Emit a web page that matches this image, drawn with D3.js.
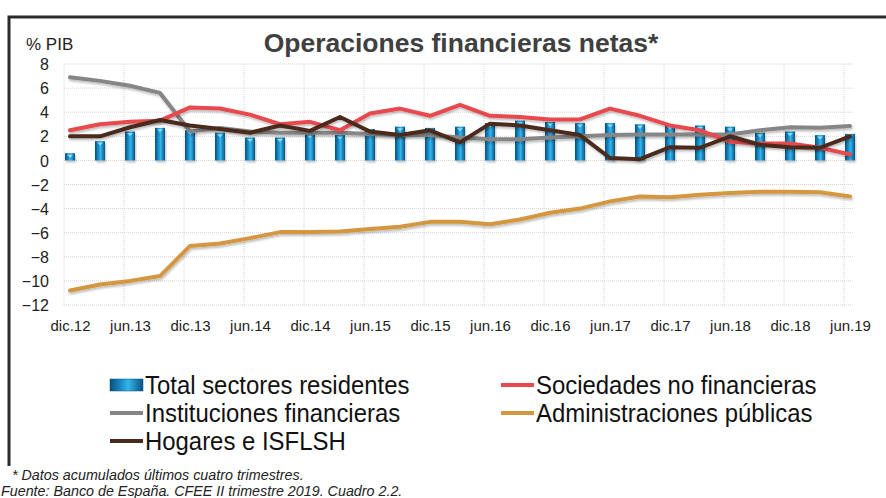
<!DOCTYPE html>
<html><head><meta charset="utf-8">
<script src="https://cdn.jsdelivr.net/npm/d3@7"></script>
<style>
html,body{margin:0;padding:0;background:#fff;}
svg{display:block;}
</style></head>
<body>
<svg id="c" width="886" height="498"></svg>
<script>
const categories = ["dic.12","mar.13","jun.13","sep.13","dic.13","mar.14","jun.14","sep.14","dic.14","mar.15","jun.15","sep.15","dic.15","mar.16","jun.16","sep.16","dic.16","mar.17","jun.17","sep.17","dic.17","mar.18","jun.18","sep.18","dic.18","mar.19","jun.19"];
const tickLabels = ["dic.12","jun.13","dic.13","jun.14","dic.14","jun.15","dic.15","jun.16","dic.16","jun.17","dic.17","jun.18","dic.18","jun.19"];
const yTicks = [-12,-10,-8,-6,-4,-2,0,2,4,6,8];
const total = [0.6,1.6,2.4,2.7,2.5,2.3,1.9,1.9,2.2,2.1,2.6,2.8,2.7,2.8,3.1,3.3,3.2,3.1,3.1,3.0,2.9,2.9,2.8,2.3,2.4,2.1,2.2];
const sociedades = [2.5,3.0,3.2,3.3,4.4,4.3,3.8,3.0,3.2,2.5,3.9,4.3,3.7,4.6,3.7,3.6,3.4,3.4,4.3,3.7,2.9,2.5,1.55,1.4,1.4,1.05,0.5];
const instituciones = [6.9,6.6,6.2,5.6,2.4,2.7,2.4,2.3,2.3,2.3,2.2,2.1,2.1,1.9,1.75,1.75,1.9,2.0,2.1,2.15,2.15,2.15,2.15,2.5,2.75,2.7,2.85];
const hogares = [2.0,2.0,2.75,3.35,2.9,2.6,2.3,2.9,2.45,3.6,2.4,2.1,2.5,1.5,3.05,2.9,2.5,2.1,0.2,0.1,1.1,1.05,2.0,1.3,1.1,1.05,2.0];
const administraciones = [-10.8,-10.3,-10.0,-9.6,-7.1,-6.9,-6.45,-5.95,-5.95,-5.9,-5.7,-5.5,-5.1,-5.1,-5.3,-4.9,-4.35,-4.0,-3.4,-3.0,-3.05,-2.85,-2.7,-2.6,-2.6,-2.65,-3.0];

const lineSeries = [
  {name:"Instituciones financieras", values:instituciones, color:"#868686"},
  {name:"Sociedades no financieras", values:sociedades, color:"#e8484e"},
  {name:"Administraciones públicas", values:administraciones, color:"#d4973f"},
  {name:"Hogares e ISFLSH", values:hogares, color:"#4a2a1c"}
];

const svg = d3.select("#c");
const font = "'Liberation Sans', Arial, sans-serif";

const x = d3.scaleLinear().domain([0, categories.length-1]).range([70, 850]);
const y = d3.scaleLinear().domain([-12, 8]).range([305, 64]);

// frame
svg.append("path").attr("d","M9,466 L9,17 L886,17").attr("fill","none").attr("stroke","#2b2b2b").attr("stroke-width",3);

// defs
const defs = svg.append("defs");
const g1 = defs.append("linearGradient").attr("id","barG").attr("x1","0").attr("x2","1").attr("y1","0").attr("y2","0");
g1.append("stop").attr("offset","0%").attr("stop-color","#0a4f7c");
g1.append("stop").attr("offset","35%").attr("stop-color","#1a8fcc");
g1.append("stop").attr("offset","55%").attr("stop-color","#33b6ea");
g1.append("stop").attr("offset","100%").attr("stop-color","#0a5283");
const sh = defs.append("filter").attr("id","sh").attr("x","-10%").attr("y","-20%").attr("width","130%").attr("height","160%");
sh.append("feDropShadow").attr("dx",1).attr("dy",2).attr("stdDeviation",1.2).attr("flood-color","#000").attr("flood-opacity",0.25);

// grid
const grid = svg.append("g");
grid.selectAll("line.h").data(yTicks).join("line")
  .attr("x1", x(0)-6).attr("x2", x(categories.length-1)+3)
  .attr("y1", d=>y(d)).attr("y2", d=>y(d))
  .attr("stroke","#d4d4d4").attr("stroke-width",1).attr("stroke-dasharray","1,1");
grid.selectAll("line.v").data(tickLabels).join("line")
  .attr("x1", d=>x(categories.indexOf(d))-6).attr("x2", d=>x(categories.indexOf(d))-6)
  .attr("y1", y(8)).attr("y2", y(-12))
  .attr("stroke","#d4d4d4").attr("stroke-width",1).attr("stroke-dasharray","1,1");

// y axis labels
const yAxis = d3.axisLeft(y).tickValues(yTicks).tickSize(0).tickPadding(0);
const ya = svg.append("g").attr("transform","translate(49,0)").call(yAxis);
ya.select(".domain").remove();
ya.selectAll("text").attr("font-family",font).attr("font-size",16).attr("fill","#222").attr("dy","0.35em");

// x axis labels
const xa = svg.append("g").attr("transform","translate(0,320)")
  .call(d3.axisBottom(x).tickValues(tickLabels.map(t=>categories.indexOf(t))).tickFormat(i=>categories[i]).tickSize(0).tickPadding(0));
xa.select(".domain").remove();
xa.selectAll("text").attr("font-family",font).attr("font-size",15).attr("fill","#222").attr("dy","0.71em");

// bars
const bw = 10;
const bars = svg.append("g");
bars.selectAll("rect").data(total).join("rect")
  .attr("x",(d,i)=>x(i)-bw/2).attr("width",bw)
  .attr("y",d=>y(Math.max(0,d))).attr("height",d=>Math.abs(y(d)-y(0)))
  .attr("fill","url(#barG)").attr("filter","url(#sh)");
bars.selectAll("path.cap").data(total).join("path").attr("class","cap")
  .attr("d",(d,i)=>`M${x(i)-3},${y(d)+1.5} L${x(i)+3},${y(d)+1.5} L${x(i)},${y(d)+4.5} Z`)
  .attr("fill","#8fdcf7");

// lines
const line = d3.line().x((d,i)=>x(i)).y(d=>y(d));
const lg = svg.append("g");
lg.selectAll("path").data(lineSeries).join("path")
  .attr("d",d=>line(d.values)).attr("fill","none")
  .attr("stroke",d=>d.color).attr("stroke-width",4)
  .attr("stroke-linejoin","round").attr("stroke-linecap","round")
  .attr("filter","url(#sh)");

// title
svg.append("text").attr("x",461).attr("y",52).attr("text-anchor","middle")
  .attr("font-family",font).attr("font-weight","bold").attr("font-size",26.5).attr("fill","#404040")
  .text("Operaciones financieras netas*");
svg.append("text").attr("x",26).attr("y",50).attr("font-family",font).attr("font-size",17).attr("fill","#222").text("% PIB");

// legend
const legendItems = [
  {name:"Total sectores residentes", type:"bar", col:0, row:0},
  {name:lineSeries[1].name, color:lineSeries[1].color, col:1, row:0},
  {name:lineSeries[0].name, color:lineSeries[0].color, col:0, row:1},
  {name:lineSeries[2].name, color:lineSeries[2].color, col:1, row:1},
  {name:lineSeries[3].name, color:lineSeries[3].color, col:0, row:2}
];
const leg = svg.append("g");
legendItems.forEach(it=>{
  const lx = it.col===0 ? 110 : 501;
  const ly = 385 + it.row*28;
  if(it.type==="bar"){
    leg.append("rect").attr("x",lx).attr("y",ly-6).attr("width",33).attr("height",12)
      .attr("fill","url(#barG)").attr("stroke","#0a4f7c").attr("stroke-width",0.5);
  } else {
    leg.append("line").attr("x1",lx).attr("x2",lx+33).attr("y1",ly).attr("y2",ly)
      .attr("stroke",it.color).attr("stroke-width",4);
  }
  leg.append("text").attr("transform",`translate(${lx+35},${ly}) scale(0.957,1)`).attr("dy","0.36em")
    .attr("font-family",font).attr("font-size",25).attr("fill","#111").text(it.name);
});

// notes
svg.append("text").attr("x",12).attr("y",480).attr("font-family",font).attr("font-style","italic")
  .attr("font-size",14.3).attr("fill","#222").text("* Datos acumulados últimos cuatro trimestres.");
svg.append("text").attr("x",1).attr("y",496).attr("font-family",font).attr("font-style","italic")
  .attr("font-size",14.3).attr("fill","#222").text("Fuente: Banco de España. CFEE II trimestre 2019. Cuadro 2.2.");
</script>
</body></html>
